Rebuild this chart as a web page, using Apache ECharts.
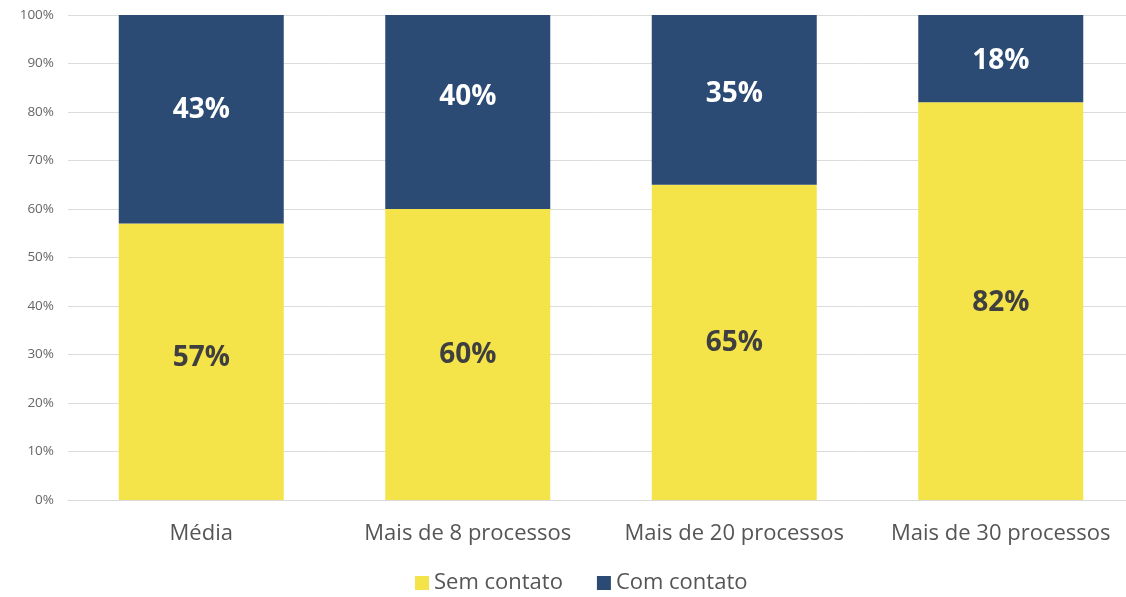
<!DOCTYPE html>
<html>
<head>
<meta charset="utf-8">
<script src="https://cdn.jsdelivr.net/npm/echarts@6/dist/echarts.min.js"></script>
<style>
  html, body { margin: 0; padding: 0; background: #ffffff; }
  #chart { width: 1126px; height: 597px; }
</style>
</head>
<body>
<div id="chart"></div>
<script>
// Categories and stacked shares (percent)
const categories = ['Média', 'Mais de 8 processos', 'Mais de 20 processos', 'Mais de 30 processos'];
const semContato = [57, 60, 65, 82];
const comContato = [43, 40, 35, 18];
const seriesNames = ['Sem contato', 'Com contato'];

// vertical nudges for the value labels inside each segment (px)
const semLabelLift = [-4, 1, 1, 2];
const comLabelLift = [-9, -15, -6, 2];

const chart = echarts.init(document.getElementById('chart'));
const font = '"Open Sans", Lato, sans-serif';

function withLabels(values, lifts) {
  return values.map((v, i) => ({ value: v, label: { offset: [0, lifts[i]] } }));
}

const labelBase = {
  show: true,
  position: 'inside',
  formatter: '{c}%',
  fontSize: 28,
  fontWeight: 'bold',
  fontFamily: font
};

chart.setOption({
  backgroundColor: '#ffffff',
  animation: false,
  grid: { left: 68, right: -8, top: 15, bottom: 97, containLabel: false, outerBoundsMode: 'none' },
  legend: {
    bottom: -2,
    left: 410,
    itemWidth: 14,
    itemHeight: 14,
    itemGap: 34,
    icon: 'rect',
    textStyle: { color: '#555555', fontSize: 22, fontFamily: font },
    data: seriesNames
  },
  xAxis: {
    type: 'category',
    data: categories,
    axisLine: { show: true, lineStyle: { color: '#d9d9d9', width: 1 } },
    axisTick: { show: false },
    axisLabel: { color: '#555555', fontSize: 22, fontFamily: font, margin: 23, interval: 0, hideOverlap: false }
  },
  yAxis: {
    type: 'value',
    min: 0,
    max: 100,
    interval: 10,
    axisLine: { show: false },
    axisTick: { show: false },
    splitLine: { lineStyle: { color: '#dcdcdc', width: 1 } },
    axisLabel: { formatter: '{value}%', color: '#666666', fontSize: 13.5, fontFamily: font, margin: 14 }
  },
  series: [
    {
      name: seriesNames[0],
      type: 'bar',
      stack: 'total',
      barWidth: 165,
      data: withLabels(semContato, semLabelLift),
      itemStyle: { color: '#F4E44A' },
      label: Object.assign({}, labelBase, { color: '#3f3f3f' })
    },
    {
      name: seriesNames[1],
      type: 'bar',
      stack: 'total',
      barWidth: 165,
      data: withLabels(comContato, comLabelLift),
      itemStyle: { color: '#2B4A74' },
      label: Object.assign({}, labelBase, { color: '#ffffff' })
    }
  ]
});
</script>
</body>
</html>
